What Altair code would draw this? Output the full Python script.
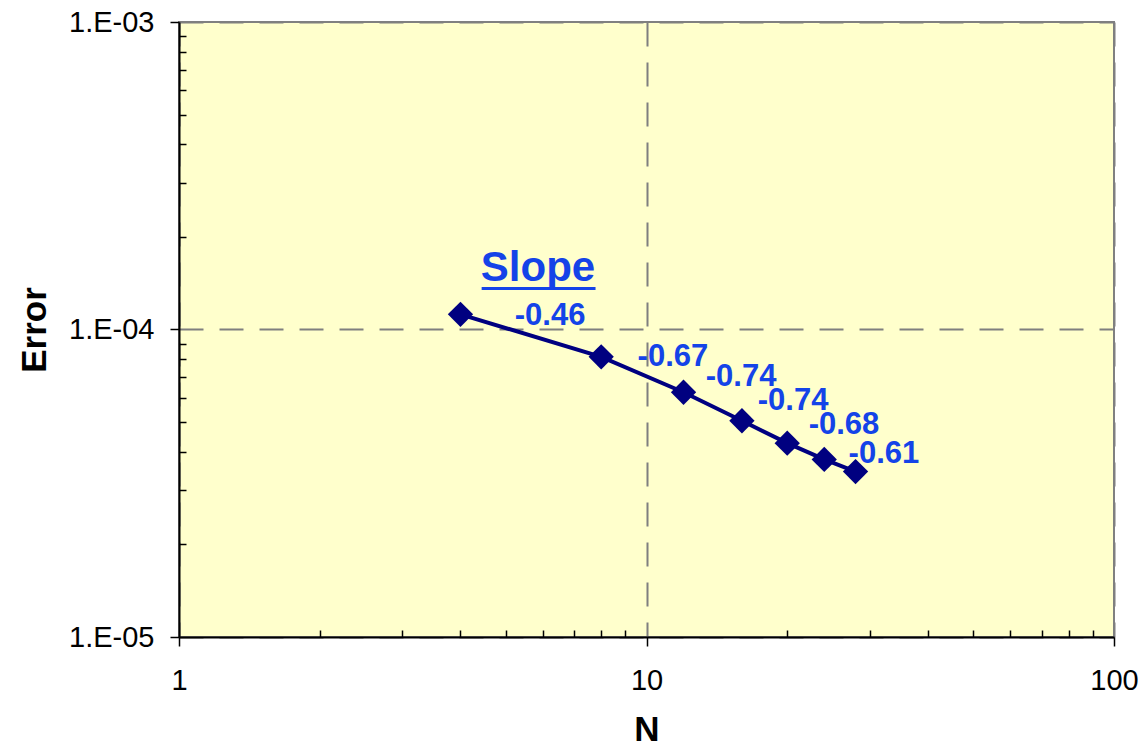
import altair as alt
import pandas as pd

# Convergence data: error against number of elements N
n_values = [4, 8, 12, 16, 20, 24, 28]
error_values = [1.12e-4, 8.15e-5, 6.25e-5, 5.05e-5, 4.27e-5, 3.78e-5, 3.45e-5]

# Local slopes between successive points and where each is written
slope_labels = ["-0.46", "-0.67", "-0.74", "-0.74", "-0.68", "-0.61"]
slope_label_n = [6.22, 11.39, 15.93, 20.58, 26.45, 32.2]
slope_label_error = [1.106e-4, 8.14e-5, 7.0e-5, 5.86e-5, 4.88e-5, 3.95e-5]

# Heading of the slope annotations and its underline
heading_text = ["Slope"]
heading_n = [5.86]
heading_error = [1.585e-4]
underline_n = [4.44, 7.78]
underline_error = [1.36e-4]

x_major = [1, 10, 100]
y_major = [1e-5, 1e-4, 1e-3]
x_minor = [2, 3, 4, 5, 6, 7, 8, 9, 20, 30, 40, 50, 60, 70, 80, 90]
y_minor = [2e-5, 3e-5, 4e-5, 5e-5, 6e-5, 7e-5, 8e-5, 9e-5,
           2e-4, 3e-4, 4e-4, 5e-4, 6e-4, 7e-4, 8e-4, 9e-4]

FONT = "Liberation Sans"
NAVY = "#000080"
BLUE = "#1443E8"
GRID = "#7F7F7F"

data = pd.DataFrame({"N": n_values, "Error": error_values})
labels = pd.DataFrame({"N": slope_label_n, "Error": slope_label_error, "label": slope_labels})
heading = pd.DataFrame({"N": heading_n, "Error": heading_error, "label": heading_text})
underline = pd.DataFrame({"N": [underline_n[0]], "N2": [underline_n[1]], "Error": underline_error})

x_scale = alt.Scale(type="log", domain=[1, 100], nice=False)
y_scale = alt.Scale(type="log", domain=[1e-5, 1e-3], nice=False)

x_axis = alt.Axis(
    values=x_major, title="N", labelExpr="format(datum.value, '~g')",
    grid=True, gridDash=[24, 16], gridColor=GRID, gridWidth=2,
    tickSize=9, labelPadding=20, titlePadding=17, labelFlush=False,
)
y_axis = alt.Axis(
    values=y_major, title="Error",
    labelExpr="'1.E-0' + round(-log(datum.value) / LN10)",
    grid=True, gridDash=[24, 16], gridColor=GRID, gridWidth=2,
    tickSize=9, labelPadding=16, titlePadding=16, labelFlush=False,
)

line = alt.Chart(data).mark_line(color=NAVY, strokeWidth=4).encode(
    x=alt.X("N:Q", scale=x_scale, axis=x_axis),
    y=alt.Y("Error:Q", scale=y_scale, axis=y_axis),
)
points = alt.Chart(data).mark_point(
    shape="diamond", filled=True, size=640, color=NAVY, opacity=1
).encode(x="N:Q", y="Error:Q")

slope_text = alt.Chart(labels).mark_text(
    font=FONT, fontSize=31, fontWeight="bold", color=BLUE,
    align="center", baseline="middle",
).encode(x="N:Q", y="Error:Q", text="label:N")

heading_mark = alt.Chart(heading).mark_text(
    font=FONT, fontSize=42, fontWeight="bold", color=BLUE,
    align="center", baseline="middle",
).encode(x="N:Q", y="Error:Q", text="label:N")

underline_mark = alt.Chart(underline).mark_rule(color=BLUE, strokeWidth=3).encode(
    x="N:Q", x2="N2:Q", y="Error:Q"
)

main = alt.layer(line, points, slope_text, heading_mark, underline_mark)

# Minor ticks drawn inward from the bottom and left axes
minor_axis_style = dict(
    title=None, labels=False, domain=False, grid=False,
    tickSize=7, tickColor="black", tickWidth=1.5, offset=-7,
)
minor = alt.Chart(data).mark_point(opacity=0).encode(
    x=alt.X("N:Q", scale=x_scale,
            axis=alt.Axis(values=x_minor, orient="bottom", **minor_axis_style)),
    y=alt.Y("Error:Q", scale=y_scale,
            axis=alt.Axis(values=y_minor, orient="left", **minor_axis_style)),
)

chart = (
    alt.layer(main, minor)
    .resolve_axis(x="independent", y="independent")
    .properties(
        width=935, height=615,
        autosize=alt.AutoSizeParams(type="none"),
        padding={"left": 179, "top": 22, "right": 32, "bottom": 110},
        background="white",
    )
    .configure_view(fill="#FFFFCC", stroke="#808080", strokeWidth=2)
    .configure_axis(
        labelFont=FONT, labelFontSize=29, labelColor="black",
        titleFont=FONT, titleFontSize=35, titleFontWeight="bold", titleColor="black",
        domainColor="black", domainWidth=2, tickColor="black", tickWidth=1.5,
    )
)

chart.save("out.html", embed_options={"renderer": "svg", "actions": False})
